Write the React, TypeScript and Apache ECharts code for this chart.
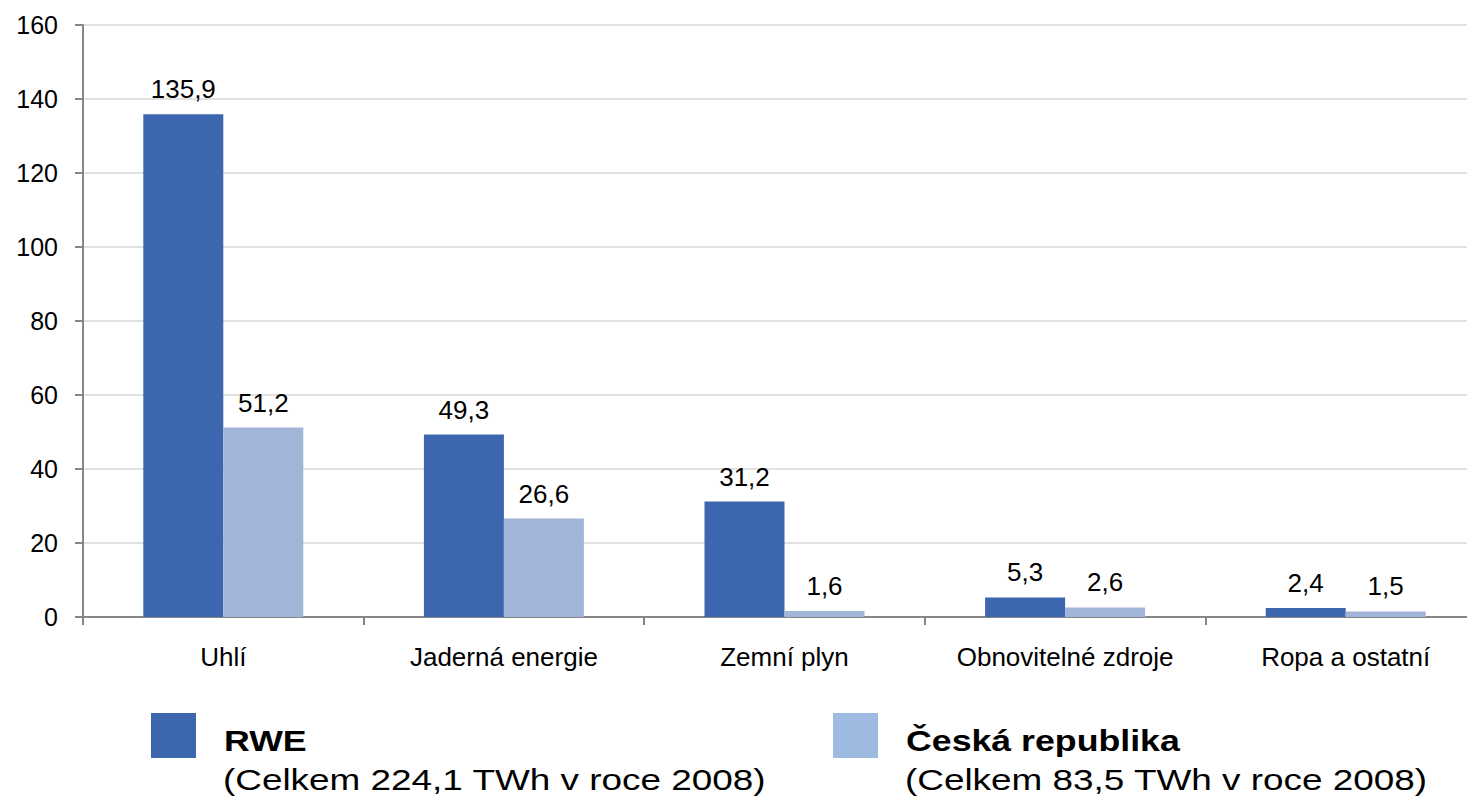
import React, { useEffect, useRef } from "react";
import * as echarts from "echarts";

const categories = ["Uhlí", "Jaderná energie", "Zemní plyn", "Obnovitelné zdroje", "Ropa a ostatní"];
const rweValues = [135.9, 49.3, 31.2, 5.3, 2.4];
const czValues = [51.2, 26.6, 1.6, 2.6, 1.5];
const seriesNames = ["RWE", "Česká republika"];
const seriesNotes = ["(Celkem 224,1 TWh v roce 2008)", "(Celkem 83,5 TWh v roce 2008)"];

const FONT = "'Liberation Sans', Arial, sans-serif";
const BLUE = "#3c66ad";
const LIGHT = "#a1b5d8";
const LIGHT_LEGEND = "#9dbbe0";

export default function App() {
  const ref = useRef<HTMLDivElement>(null);
  useEffect(() => {
    if (!ref.current) return;
    const chart = echarts.init(ref.current, undefined, { renderer: "svg" });
    const fmt = (p: any) => String(p.value).replace(".", ",");
    const legendItem = (x: number, color: string, name: string, note: string) => ({
      type: "group",
      children: [
        { type: "rect", shape: { x: x, y: 713, width: 45, height: 45 }, style: { fill: color } },
        {
          type: "text",
          x: x + 73,
          y: 741,
          scaleX: 1.19,
          style: { text: name, font: `bold 30px ${FONT}`, fill: "#000", textVerticalAlign: "middle" },
        },
        {
          type: "text",
          x: x + 72,
          y: 780,
          scaleX: 1.23,
          style: { text: note, font: `30px ${FONT}`, fill: "#000", textVerticalAlign: "middle" },
        },
      ],
    });
    chart.setOption({
      animation: false,
      backgroundColor: "#fff",
      grid: { left: 83, right: 0, top: 25, bottom: 183, containLabel: false },
      xAxis: {
        type: "category",
        data: categories,
        axisLine: { lineStyle: { color: "#868686", width: 2 } },
        axisTick: { show: true, interval: 0, length: 8, lineStyle: { color: "#868686", width: 2 } },
        axisLabel: { color: "#000", fontSize: 26, fontFamily: FONT, margin: 27, interval: 0 },
      },
      yAxis: {
        type: "value",
        min: 0,
        max: 160,
        interval: 20,
        axisLine: { show: true, lineStyle: { color: "#868686", width: 2 } },
        axisTick: { show: true, length: 8, lineStyle: { color: "#868686", width: 2 } },
        axisLabel: { color: "#000", fontSize: 25, fontFamily: FONT, margin: 25 },
        splitLine: { lineStyle: { color: "#d9d9d9", width: 1.5 } },
      },
      series: [
        {
          name: seriesNames[0],
          type: "bar",
          data: rweValues,
          barWidth: 80,
          barGap: "0%",
          itemStyle: { color: BLUE },
          label: { show: true, position: "top", distance: 12, color: "#000", fontSize: 26, fontFamily: FONT, formatter: fmt },
        },
        {
          name: seriesNames[1],
          type: "bar",
          data: czValues,
          barWidth: 80,
          itemStyle: { color: LIGHT },
          label: { show: true, position: "top", distance: 12, color: "#000", fontSize: 26, fontFamily: FONT, formatter: fmt },
        },
      ],
      graphic: [
        legendItem(151, BLUE, seriesNames[0], seriesNotes[0]),
        legendItem(833, LIGHT_LEGEND, seriesNames[1], seriesNotes[1]),
      ],
    });
    return () => chart.dispose();
  }, []);
  return (
    <div style={{ position: "absolute", left: 0, top: 0, width: 1467, height: 800, overflow: "hidden", background: "#fff" }}>
      <div ref={ref} style={{ position: "absolute", left: 0, top: 0, width: 1486, height: 800 }} />
    </div>
  );
}
